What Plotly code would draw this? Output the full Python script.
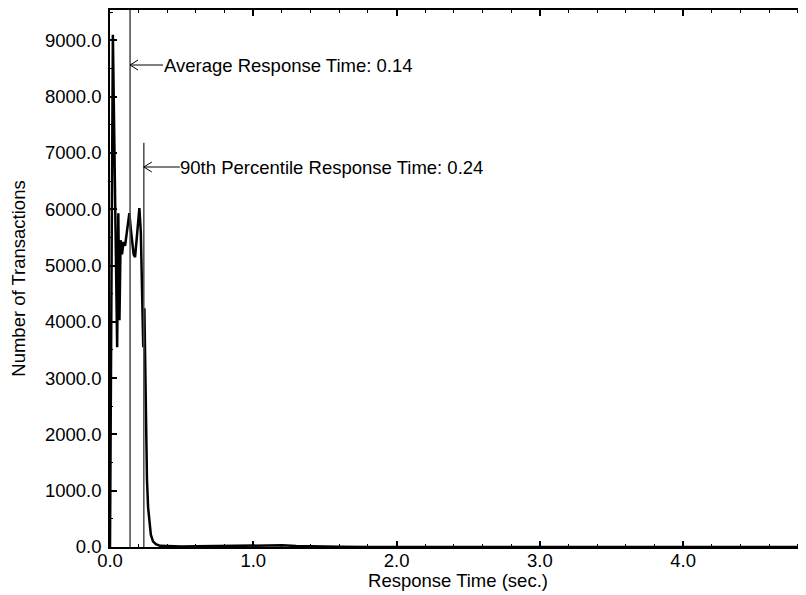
import plotly.graph_objects as go

# ---- data ----
resp_time = [0.000, 0.010, 0.020, 0.050, 0.058, 0.066, 0.074, 0.084, 0.094, 0.105,
             0.115, 0.125, 0.135, 0.145, 0.155, 0.165, 0.175, 0.185, 0.195, 0.205,
             0.215, 0.225, 0.232, 0.240, 0.250, 0.258, 0.266, 0.275, 0.285, 0.300,
             0.320, 0.350, 0.400, 0.500, 0.600, 0.700, 0.800, 0.900, 1.000, 1.100,
             1.200, 1.300, 1.400, 1.500, 1.600, 1.800, 2.000, 2.500, 3.000, 4.000, 4.860]
transactions = [0, 5000, 9100, 3550, 5930, 4030, 5450, 5200, 5420, 5350,
                5550, 5750, 5930, 5650, 5400, 5200, 5150, 5400, 5750, 6020,
                5600, 4200, 3550, 4240, 2400, 1200, 700, 400, 220, 100,
                50, 20, 12, 8, 12, 15, 20, 22, 25, 28,
                30, 18, 10, 6, 4, 2, 1, 1, 0, 0, 0]

avg_time = 0.14
p90_time = 0.236
p90_line_top = 7180
avg_label = "Average Response Time: %.2f" % avg_time
p90_label = "90th Percentile Response Time: %.2f" % p90_time

x_range = [0, 4.857]
y_range = [0, 9540]

FONT = "Liberation Sans, Arial, sans-serif"
FS = 18.5

fig = go.Figure()

fig.add_trace(go.Scatter(
    x=resp_time, y=transactions, mode="lines",
    line=dict(color="black", width=2.5), showlegend=False, hoverinfo="skip"))

# reference lines
fig.add_shape(type="line", xref="x", yref="y", x0=avg_time, x1=avg_time,
              y0=0, y1=y_range[1], line=dict(color="#4a4a4a", width=1.5))
fig.add_shape(type="line", xref="x", yref="y", x0=p90_time, x1=p90_time,
              y0=0, y1=p90_line_top, line=dict(color="#4a4a4a", width=1.5))

def add_label(xv, yv, text, text_offset):
    fig.add_annotation(x=xv, y=yv, xref="x", yref="y", text=text,
                       showarrow=True, arrowhead=0, arrowwidth=1, arrowcolor="black",
                       ax=text_offset, ay=0, axref="pixel", ayref="pixel",
                       font=dict(family=FONT, size=FS, color="black"),
                       borderpad=0, standoff=0)
    for dy in (5, -5):
        fig.add_shape(type="line", xref="x", yref="y",
                      xsizemode="pixel", ysizemode="pixel",
                      xanchor=xv, yanchor=yv, x0=0, x1=8, y0=0, y1=dy,
                      line=dict(color="black", width=1))

add_label(avg_time, (547 - 65) / 537 * y_range[1], avg_label, 158)
add_label(p90_time, (547 - 167) / 537 * y_range[1], p90_label, 188)

# page body has an 8px margin: size figure so the plot lands where the reference has it
fig.update_layout(
    width=806, height=583,
    margin=dict(l=102, r=8, t=2, b=44, autoexpand=False),
    paper_bgcolor="white", plot_bgcolor="white",
    font=dict(family=FONT, size=FS, color="black"),
    showlegend=False,
)

fig.update_xaxes(
    range=x_range, showgrid=False, zeroline=False, automargin=False,
    showline=True, linecolor="black", linewidth=1.5, mirror="ticks",
    ticks="inside", ticklen=6, tickwidth=1.5, tickcolor="black",
    dtick=1, tick0=0, tickformat=".1f", ticklabelstandoff=-4,
    minor=dict(dtick=0.2, ticks="inside", ticklen=3, tickwidth=1, tickcolor="black"),
    title=dict(text="Response Time (sec.)", font=dict(family=FONT, size=FS), standoff=6),
    tickfont=dict(family=FONT, size=FS),
)
fig.update_yaxes(
    range=y_range, showgrid=False, zeroline=False, automargin=False,
    showline=True, linecolor="black", linewidth=1.5, mirror=False,
    ticks="inside", ticklen=7, tickwidth=1.5, tickcolor="black",
    dtick=1000, tick0=0, tickformat=".1f", ticklabelstandoff=3,
    minor=dict(dtick=500, ticks="inside", ticklen=3.5, tickwidth=1, tickcolor="black"),
    title=dict(text="Number of Transactions", font=dict(family=FONT, size=FS), standoff=14),
    tickfont=dict(family=FONT, size=FS),
)

fig.write_html("out.html")
